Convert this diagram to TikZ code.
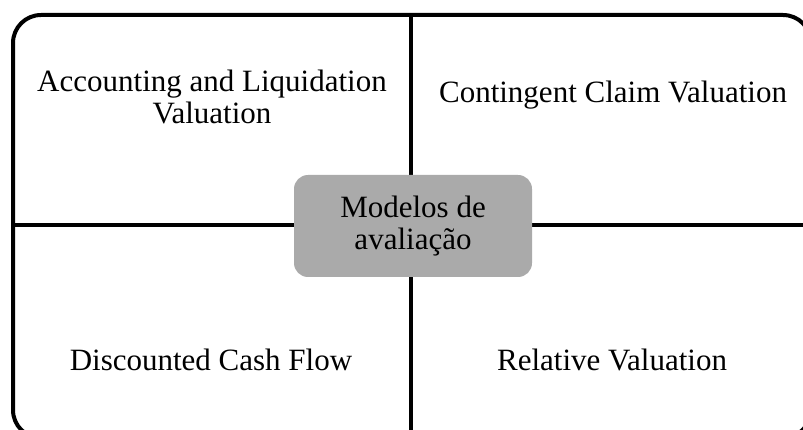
\documentclass[tikz,border=0pt]{standalone}
\usepackage{fontspec}
\setmainfont{Liberation Serif}
\usepackage{xcolor}

\definecolor{boxgray}{RGB}{170,170,170}

\begin{document}
\begin{tikzpicture}[x=1pt, y=-1pt,
    every node/.style={font=\fontsize{31}{32}\selectfont, align=center},
    frameline/.style={line width=4pt},
    centre/.style={fill=boxgray, rounded corners=14pt, minimum width=238pt, minimum height=102pt, inner sep=0pt}]
  \useasboundingbox (0,0) rectangle (803,430);

  % outer frame and the two dividers
  \draw[frameline, rounded corners=28pt] (13,15) rectangle (811,438);
  \coordinate (top) at (411,15);
  \coordinate (bottom) at (411,438);
  \coordinate (left) at (13,225);
  \coordinate (right) at (811,225);
  \draw[frameline] (top) -- (bottom);
  \draw[frameline] (left) -- (right);

  % centre box
  \node[centre] (models) at (413,226) {Modelos de\\avaliação};

  % the four quadrants
  \node (acc) at (212,97) {Accounting and Liquidation\\Valuation};
  \node (cont) at (613,95) {Contingent Claim Valuation};
  \node (dcf) at (211,360) {Discounted Cash Flow};
  \node (rel) at (612,360) {Relative Valuation};
\end{tikzpicture}
\end{document}
